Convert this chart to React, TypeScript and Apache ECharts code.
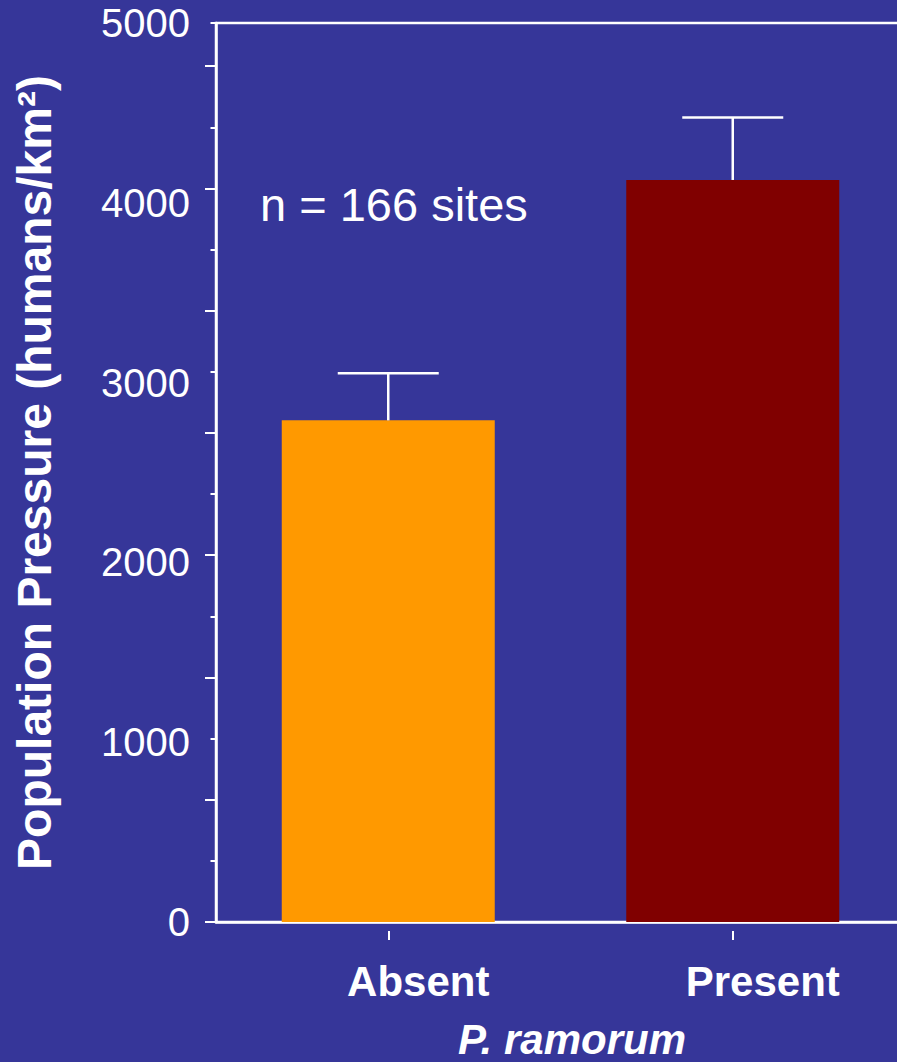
import React, { useEffect, useRef } from "react";
import * as echarts from "echarts";

// Population pressure around sites, by P. ramorum status
const categories = ["Absent", "Present"];
const meanValues = [2790, 4127];
const errorValues = [262, 348];
const barColors = ["#FF9900", "#800000"];

// Y axis: labelled every 1000, with long/short ticks on their own spacing
const yMax = 5000;
const yLabelInterval = 1000;
const longTickValues = [0, 680, 1360, 2040, 2720, 3400, 4080, 4760];
const shortTickValues = [340, 1020, 1700, 2380, 3060, 3740, 4420, 5000];

const yTitle = "Population Pressure (humans/km²)";
const xTitle = "P. ramorum";
const sampleNote = "n = 166 sites";

const FONT = "'Liberation Sans', Arial, Helvetica, sans-serif";
const BG = "#363699";
const FG = "#ffffff";

export default function App() {
  const ref = useRef<HTMLDivElement>(null);

  useEffect(() => {
    if (!ref.current) return;
    const chart = echarts.init(ref.current, undefined, { renderer: "svg" });

    const option: any = {
      animation: false,
      backgroundColor: BG,
      grid: {
        left: 216,
        top: 23,
        width: 689,
        height: 899,
        show: true,
        borderColor: FG,
        borderWidth: 2.5,
        backgroundColor: "transparent",
        containLabel: false,
        outerBoundsMode: "none",
      },
      xAxis: [
        {
          type: "category",
          data: categories,
          position: "bottom",
          axisLine: { show: true, onZero: false, lineStyle: { color: FG, width: 2.5 } },
          axisTick: { show: false },
          axisLabel: {
            color: FG,
            fontSize: 42,
            fontWeight: "bold",
            fontFamily: FONT,
            margin: 38,
            padding: [0, 0, 0, 60],
          },
          splitLine: { show: false },
        },
        {
          type: "category",
          data: categories,
          position: "bottom",
          offset: 9,
          axisLine: { show: false, onZero: false },
          axisTick: { show: true, alignWithLabel: true, length: 9, lineStyle: { color: FG, width: 2 } },
          axisLabel: { show: false },
          splitLine: { show: false },
        },
      ],
      yAxis: [
        {
          type: "value",
          min: 0,
          max: yMax,
          interval: yLabelInterval,
          position: "left",
          axisLine: { show: true, lineStyle: { color: FG, width: 2.5 } },
          axisTick: {
            show: true,
            length: 11,
            customValues: longTickValues,
            lineStyle: { color: FG, width: 2 },
          },
          axisLabel: {
            color: FG,
            fontSize: 40,
            fontFamily: FONT,
            margin: 26,
            formatter: (v: number) => String(v),
          },
          splitLine: { show: false },
          name: yTitle,
          nameLocation: "middle",
          nameRotate: 90,
          nameGap: 158,
          nameTextStyle: { color: FG, fontSize: 48, fontWeight: "bold", fontFamily: FONT },
        },
        {
          type: "value",
          min: 0,
          max: yMax,
          position: "left",
          axisLine: { show: false },
          axisTick: {
            show: true,
            length: 5.5,
            customValues: shortTickValues,
            lineStyle: { color: FG, width: 2 },
          },
          axisLabel: { show: false },
          splitLine: { show: false },
        },
      ],
      series: [
        {
          type: "bar",
          xAxisIndex: 0,
          yAxisIndex: 0,
          barWidth: 213,
          data: meanValues.map((v, i) => ({ value: v, itemStyle: { color: barColors[i] } })),
          z: 2,
        },
        {
          type: "custom",
          xAxisIndex: 0,
          yAxisIndex: 0,
          z: 3,
          encode: { x: 0, y: 1 },
          data: categories.map((_, i) => [i, meanValues[i], errorValues[i]]),
          renderItem: (params: any, api: any) => {
            const idx = api.value(0);
            const mean = api.value(1);
            const err = api.value(2);
            const base = api.coord([idx, mean]);
            const top = api.coord([idx, mean + err]);
            const half = 50.5;
            const style = { stroke: FG, lineWidth: 2.5 };
            return {
              type: "group",
              children: [
                { type: "line", shape: { x1: base[0], y1: base[1], x2: top[0], y2: top[1] }, style },
                { type: "line", shape: { x1: top[0] - half, y1: top[1], x2: top[0] + half, y2: top[1] }, style },
              ],
            };
          },
        },
      ],
      graphic: [
        {
          type: "text",
          x: 260,
          y: 204,
          style: {
            text: sampleNote,
            fill: FG,
            fontSize: 47,
            fontFamily: FONT,
            verticalAlign: "middle",
          },
        },
        {
          type: "text",
          x: 572,
          y: 1039,
          style: {
            text: xTitle,
            fill: FG,
            fontSize: 42,
            lineHeight: 42,
            fontWeight: "bold",
            fontStyle: "italic",
            fontFamily: FONT,
            align: "center",
            verticalAlign: "middle",
          },
        },
      ],
    };

    chart.setOption(option);
    return () => chart.dispose();
  }, []);

  return (
    <div
      ref={ref}
      style={{ position: "fixed", left: 0, top: 0, width: 897, height: 1062 }}
    />
  );
}
